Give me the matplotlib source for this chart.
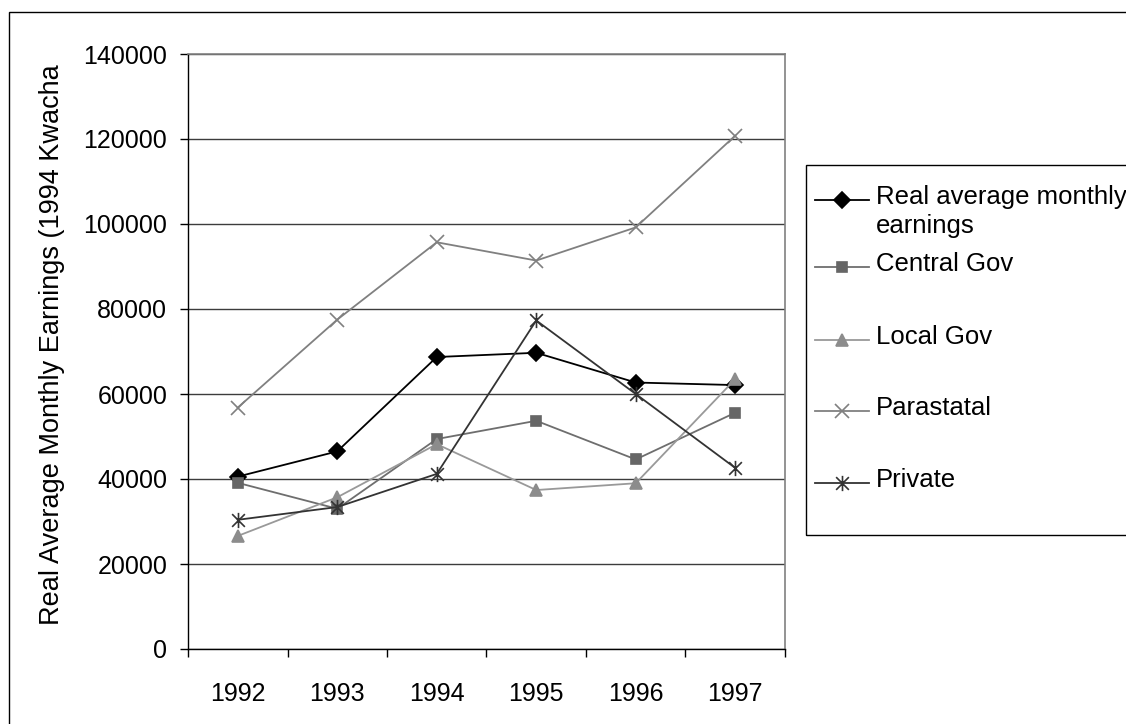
import matplotlib
matplotlib.use("Agg")
import matplotlib.pyplot as plt
from matplotlib.path import Path
from matplotlib.patches import Rectangle
from matplotlib.lines import Line2D

plt.rcParams['font.family'] = ['Liberation Sans', 'DejaVu Sans']

years = ['1992', '1993', '1994', '1995', '1996', '1997']
real_avg = [40560, 46500, 68700, 69700, 62700, 62100]
central_gov = [39100, 33000, 49400, 53700, 44600, 55600]
local_gov = [26600, 35700, 48200, 37400, 39000, 63500]
parastatal = [56800, 77500, 95700, 91400, 99200, 120800]
private = [30400, 33400, 41200, 77300, 60000, 42600]

# excel style asterisk: an x with a vertical bar through it
star = Path([(-1, -1), (1, 1), (-1, 1), (1, -1), (0, -1.2), (0, 1.2)],
            [Path.MOVETO, Path.LINETO, Path.MOVETO, Path.LINETO, Path.MOVETO, Path.LINETO])

series = [
    ("Real average monthly\nearnings", real_avg, '#000000', 'D', 8.5, '#000000'),
    ("Central Gov", central_gov, '#6e6e6e', 's', 7.5, '#666666'),
    ("Local Gov", local_gov, '#999999', '^', 8.5, '#8c8c8c'),
    ("Parastatal", parastatal, '#808080', 'x', 9.5, '#808080'),
    ("Private", private, '#333333', star, 11, '#333333'),
]

W, H = 1126, 724
fig = plt.figure(figsize=(W / 100, H / 100), dpi=100)
ax = fig.add_axes([188 / W, 1 - 649 / H, (785 - 188) / W, (649 - 54) / H])

x = list(range(len(years)))
for label, vals, col, mk, ms, mcol in series:
    ax.plot(x, vals, color=col, lw=1.3, marker=mk, markersize=ms,
            markerfacecolor=mcol, markeredgecolor=mcol, markeredgewidth=1.2, zorder=3)

ax.set_xlim(-0.5, len(years) - 0.5)
ax.set_ylim(0, 140000)
ax.set_yticks(range(0, 140001, 20000))
ax.set_yticklabels([str(v) for v in range(0, 140001, 20000)], fontsize=18)
ax.set_xticks([i - 0.5 for i in range(len(years) + 1)])
ax.set_xticklabels([])
ax.set_xticks(x, minor=True)
ax.set_xticklabels(years, minor=True, fontsize=18)
ax.tick_params(axis='x', which='major', length=6, width=1, direction='out')
ax.tick_params(axis='x', which='minor', length=0, pad=24)
ax.tick_params(axis='y', length=6, width=1, direction='out', pad=9)
ax.yaxis.grid(True, color='#3c3c3c', lw=1)
ax.set_axisbelow(True)
for s in ['left', 'bottom']:
    ax.spines[s].set_color('black')
    ax.spines[s].set_linewidth(1)
for s in ['top', 'right']:
    ax.spines[s].set_color('#808080')
    ax.spines[s].set_linewidth(1.2)

fig.text(52 / W, 1 - 345 / H, "Real Average Monthly Earnings (1994 Kwacha",
         rotation=90, ha='center', va='center', fontsize=19.5)

# outer chart border (right and bottom edges fall outside the picture)
fig.add_artist(Rectangle((9 / W, -0.1), 1.2, 1.1 - 12 / H, transform=fig.transFigure,
                         fill=False, ec='black', lw=1))

# legend box drawn by hand to match the excel layout
fig.add_artist(Rectangle((806 / W, 1 - 535 / H), 0.5, (535 - 165) / H, transform=fig.transFigure,
                         fill=False, ec='black', lw=1))
ys = [200, 267, 340, 411, 483]
for (label, vals, col, mk, ms, mcol), yy in zip(series, ys):
    fy = 1 - yy / H
    fig.add_artist(Line2D([815 / W, 869 / W], [fy, fy], transform=fig.transFigure, color=col, lw=1.3))
    fig.add_artist(Line2D([842 / W], [fy], transform=fig.transFigure, marker=mk, markersize=ms,
                          markerfacecolor=mcol, markeredgecolor=mcol, markeredgewidth=1.2))
    fig.text(876 / W, fy + 15 / H, label, ha='left', va='top', fontsize=18.5, linespacing=1.25)

fig.savefig("out.png", dpi=100)
